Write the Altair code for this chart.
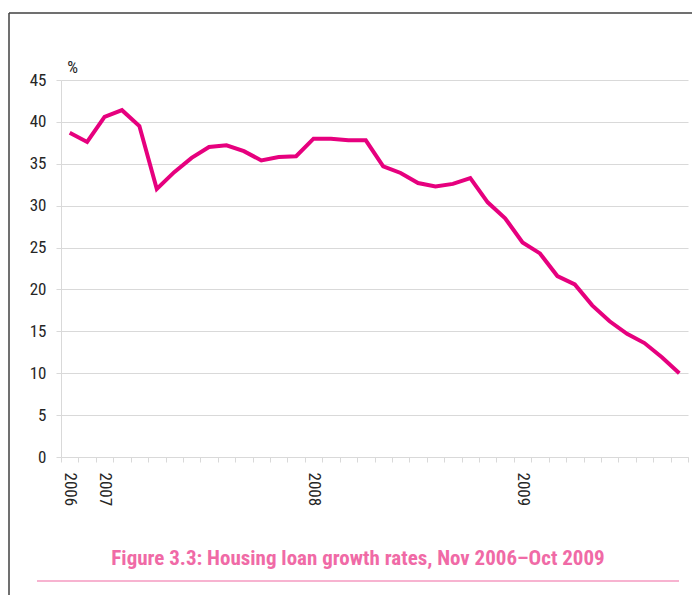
import altair as alt
import pandas as pd

months = [
    "2006-11", "2006-12",
    "2007-01", "2007-02", "2007-03", "2007-04", "2007-05", "2007-06",
    "2007-07", "2007-08", "2007-09", "2007-10", "2007-11", "2007-12",
    "2008-01", "2008-02", "2008-03", "2008-04", "2008-05", "2008-06",
    "2008-07", "2008-08", "2008-09", "2008-10", "2008-11", "2008-12",
    "2009-01", "2009-02", "2009-03", "2009-04", "2009-05", "2009-06",
    "2009-07", "2009-08", "2009-09", "2009-10",
]
growth = [
    38.7, 37.6,
    40.6, 41.4, 39.5, 32.0, 34.0, 35.7, 37.0, 37.2, 36.5, 35.4, 35.8, 35.9,
    38.0, 38.0, 37.8, 37.8, 34.7, 33.9, 32.7, 32.3, 32.6, 33.3, 30.4, 28.5,
    25.6, 24.3, 21.6, 20.6, 18.1, 16.2, 14.7, 13.6, 11.9, 10.0,
]
y_ticks = [0, 5, 10, 15, 20, 25, 30, 35, 40, 45]
title_text = "Figure 3.3: Housing loan growth rates, Nov 2006\u2013Oct 2009"

df = pd.DataFrame({"month": months, "value": growth})

FONT = "Liberation Sans Narrow, Roboto Condensed, DejaVu Sans Condensed, Liberation Sans, sans-serif"
GRID = "#d9d9d9"
LABEL = "#262626"

line = alt.Chart(df).mark_line(color="#e6007e", strokeWidth=4).encode(
    x=alt.X(
        "month:O",
        sort=months,
        scale=alt.Scale(paddingInner=0, paddingOuter=0),
        axis=alt.Axis(
            title=None,
            labelExpr="datum.value == '2006-11' ? '2006' : (substring(datum.value, 5, 7) == '01' ? substring(datum.value, 0, 4) : '')",
            labelAngle=90,
            labelAlign="left",
            labelBaseline="middle",
            labelPadding=10,
            labelFont=FONT,
            labelFontSize=17,
            labelColor=LABEL,
            tickBand="extent",
            tickSize=5,
            tickColor=GRID,
            domainColor=GRID,
            grid=False,
            labelOverlap=False,
        ),
    ),
    y=alt.Y(
        "value:Q",
        scale=alt.Scale(domain=[0, 45], nice=False),
        axis=alt.Axis(
            values=y_ticks,
            title="%",
            titleAngle=0,
            titleX=11,
            titleY=-13,
            titleAlign="center",
            titleBaseline="middle",
            titleFont=FONT,
            titleFontSize=17,
            titleFontWeight="normal",
            titleColor=LABEL,
            labelFont=FONT,
            labelFontSize=17,
            labelColor=LABEL,
            labelPadding=10,
            tickSize=5,
            tickColor=GRID,
            domainColor=GRID,
            gridColor=GRID,
            gridWidth=1,
        ),
    ),
)

one = pd.DataFrame({"k": [0]})

frame_top = alt.Chart(one).mark_rule(color="#404040", strokeWidth=1.5).encode(
    x=alt.value(-52), x2=alt.value(640), y=alt.value(-67)
)
frame_left = alt.Chart(one).mark_rule(color="#404040", strokeWidth=1.5).encode(
    x=alt.value(-52), y=alt.value(-67), y2=alt.value(540)
)
pink_rule = alt.Chart(one).mark_rule(color="#f49ac1", strokeWidth=1.5).encode(
    x=alt.value(-24), x2=alt.value(618), y=alt.value(501)
)
title = alt.Chart(one).mark_text(
    text=title_text,
    font=FONT,
    fontSize=21,
    fontWeight="bold",
    color="#f06aa6",
    align="center",
    baseline="alphabetic",
).encode(x=alt.value(297), y=alt.value(485))

chart = alt.layer(line, frame_top, frame_left, pink_rule, title).properties(
    width=627,
    height=377,
    autosize=alt.AutoSizeParams(type="none"),
    padding={"left": 53, "top": 72, "right": 4, "bottom": 138},
).configure_view(stroke=None)

chart.save("out.html", embed_options={"renderer": "svg", "actions": False})
